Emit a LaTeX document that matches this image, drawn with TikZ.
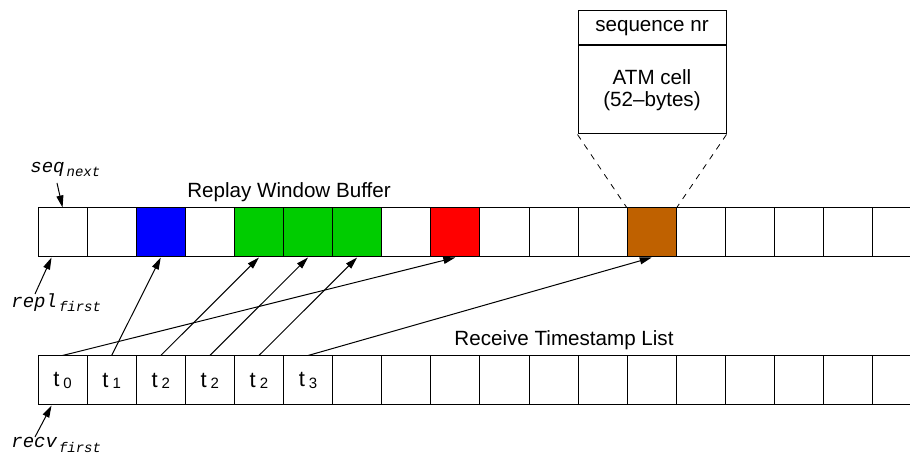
\documentclass[tikz,border=0pt]{standalone}
\usepackage{fontspec}
\setmainfont{Liberation Sans}
\newfontfamily\monofont{Liberation Mono}
\usetikzlibrary{arrows.meta}

\definecolor{cellgreen}{RGB}{0,204,0}
\definecolor{cellbrown}{RGB}{191,97,0}

\tikzset{
	cell/.style={draw, line width=0.5pt, minimum width=24.55pt, minimum height=24.5pt, inner sep=0pt, font=\fontsize{11}{11}\selectfont},
	ptr/.style={-{Triangle[length=6pt,width=3.5pt]}, line width=0.5pt},
	lbl/.style={font=\fontsize{10.3}{11}\selectfont, inner sep=0pt},
	var/.style={font=\fontsize{9.5}{9.5}\selectfont\monofont\itshape, inner sep=0pt}
}
\newcommand{\tsub}[1]{t\kern2pt\raisebox{-0.6pt}{\fontsize{7.5}{7.5}\selectfont #1}}
\newcommand{\vsub}[2]{#1\kern1pt\raisebox{-2pt}{\fontsize{7}{7}\selectfont #2}}

\begin{document}
\begin{tikzpicture}[x=0.5pt,y=-0.5pt]
		\useasboundingbox (0,0) rectangle (910,459);

		\begin{scope}
		\clip (0,0) rectangle (910,459);
		% replay window buffer
		\foreach \i/\c in {0/white,1/white,2/blue,3/white,4/cellgreen,5/cellgreen,6/cellgreen,7/white,8/red,
			9/white,10/white,11/white,12/cellbrown,13/white,14/white,15/white,16/white,17/white}
			\node[cell, fill=\c] (r\i) at ({62.55+49.1*\i},232.5) {};

		% receive timestamp list
		\foreach \i/\s in {0/0,1/1,2/2,3/2,4/2,5/3}
			\node[cell] (t\i) at ({62.55+49.1*\i},380.5) {\tsub{\s}};
		\foreach \i in {6,...,17}
			\node[cell] (t\i) at ({62.55+49.1*\i},380.5) {};
		\end{scope}

		\node[lbl, anchor=base] (rwb) at (289,198) {Replay Window Buffer};
		\node[lbl, anchor=base] (rtl) at (564,346) {Receive Timestamp List};

		% cell layout
		\node[draw, line width=0.5pt, lbl, align=center, minimum width=74pt, minimum height=44pt] (atm) at (652,90) {ATM cell\\(52--bytes)};
		\node[draw, line width=0.5pt, lbl, minimum width=74pt, minimum height=17pt, anchor=south] (seqnr) at (atm.north) {sequence nr};
		\draw[dashed, line width=0.4pt] (atm.south west) -- (r12.north west);
		\draw[dashed, line width=0.4pt] (atm.south east) -- (r12.north east);

		% pointers
		\node[var, anchor=base west] (seqnext) at (30,173) {\vsub{seq}{next}};
		\node[var, anchor=base west] (replfirst) at (11,308) {\vsub{repl}{first}};
		\node[var, anchor=base west] (recvfirst) at (11,448) {\vsub{recv}{first}};
		\coordinate (seqtail) at (57,183);
		\coordinate (repltail) at (35,294);
		\coordinate (recvtail) at (35,437);
		\draw[ptr] (seqtail) -- (r0.north);
		\draw[ptr] (repltail) -- ([xshift=-5.5pt]r0.south);
		\draw[ptr] (recvtail) -- ([xshift=-5.5pt]t0.south);

		\foreach \a/\b in {0/8,1/2,2/4,3/5,4/6,5/12}
			\draw[ptr] (t\a.north) -- (r\b.south);
\end{tikzpicture}
\end{document}
